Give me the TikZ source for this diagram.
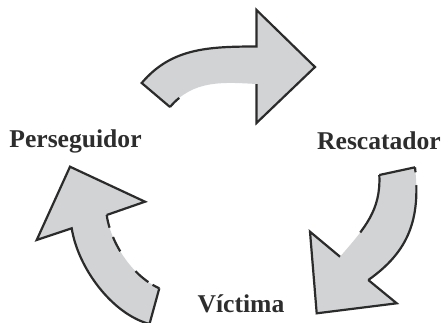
\documentclass[tikz,border=0pt]{standalone}
\usepackage{fontspec}
\setmainfont{Liberation Serif}
\definecolor{arrowfill}{RGB}{209,211,212}
\definecolor{rimcol}{RGB}{43,43,43}
\definecolor{labelcol}{RGB}{45,45,45}
\begin{document}
\begin{tikzpicture}[x=1pt,y=-1pt,
  bodyfill/.style={fill=arrowfill, draw=none},
  rim/.style={draw=rimcol, line width=2.2pt, line join=miter, line cap=butt},
  role/.style={font=\fontsize{25.6}{30}\selectfont\bfseries, text=labelcol,
               inner sep=0pt, anchor=base}]
\useasboundingbox (0,0) rectangle (444,322);
\clip (0,0) rectangle (444,322);

% ---- upper arrow: Perseguidor -> Rescatador
\coordinate (tA) at (141.7,83);
\coordinate (tB) at (170,107);
\coordinate (tC) at (256.5,84);
\coordinate (tD) at (256.5,123);
\coordinate (tE) at (315,67);
\coordinate (tF) at (256.5,10);
\coordinate (tG) at (256.5,46.5);
\fill[bodyfill] (tA) -- (tB) .. controls (193,80) and (222,82) .. (tC)
  -- (tD) -- (tE) -- (tF) -- (tG) .. controls (206.5,46.5) and (170.8,48.7) .. (tA) -- cycle;
\draw[rim] (tC) -- (tD) -- (tE) -- (tF) -- (tG)
  .. controls (206.5,46.5) and (170.8,48.7) .. (tA) -- (tB);
\draw[rim, dash pattern=on 13pt off 300pt] (tB) .. controls (193,80) and (222,82) .. (tC);

% ---- right arrow: Rescatador -> Victima
\coordinate (rP) at (379.3,175);
\coordinate (rQ) at (415,167.3);
\coordinate (rR) at (368.3,280);
\coordinate (rS) at (396.7,303.3);
\coordinate (rT) at (316.7,313.3);
\coordinate (rU) at (310,231.7);
\coordinate (rV) at (340,256.7);
\fill[bodyfill] (rP) -- (rQ) .. controls (421,220) and (408,252) .. (rR)
  -- (rS) -- (rT) -- (rU) -- (rV) .. controls (365,228) and (381,210) .. (rP) -- cycle;
\draw[rim] (rP) -- (rQ);
\draw[rim, dash pattern=on 5pt off 13pt on 400pt] (rQ) .. controls (421,220) and (408,252) .. (rR);
\draw[rim] (rR) -- (rS) -- (rT) -- (rU) -- (rV);
\draw[rim, dash pattern=on 62pt off 300pt] (rP) .. controls (381,210) and (365,228) .. (rV);

% ---- left arrow: Victima -> Perseguidor
\coordinate (lH) at (70,166.7);
\coordinate (lI) at (145,201.7);
\coordinate (lJ) at (106.7,215);
\coordinate (lK) at (71.7,228.3);
\coordinate (lL) at (36.7,240);
\coordinate (lM) at (149.5,324);
\coordinate (lN) at (159.3,288.3);
\fill[bodyfill] (lH) -- (lI) -- (lJ) .. controls (110,240) and (130,275) .. (lN)
  -- (lM) .. controls (112,314) and (78,268) .. (lK) -- (lL) -- cycle;
\draw[rim] (lJ) -- (lI) -- (lH) -- (lL) -- (lK)
  .. controls (78,268) and (112,314) .. (lM) -- (lN);
\draw[rim, dash pattern=on 13pt off 10pt on 16pt off 25pt on 17pt off 5pt on 30pt]
  (lJ) .. controls (110,240) and (130,275) .. (lN);

% ---- role labels
\node[role] (pers) at (75.5,147.7) {Perseguidor};
\node[role] (resc) at (379,149) {Rescatador};
\node[role] (vict) at (241,312) {Víctima};
\end{tikzpicture}
\end{document}
